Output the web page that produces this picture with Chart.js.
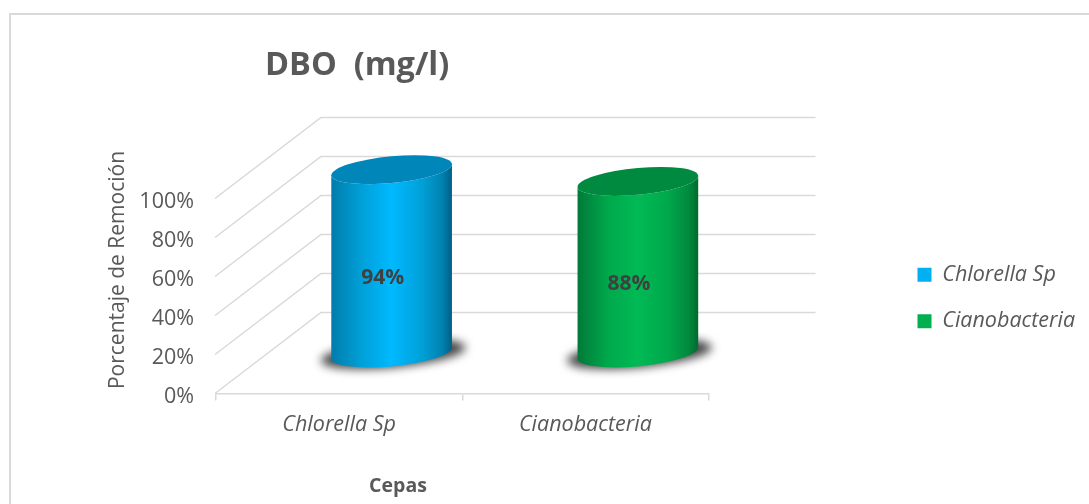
<!DOCTYPE html>
<html>
<head>
<meta charset="utf-8">
<script src="https://cdn.jsdelivr.net/npm/chart.js@4"></script>
<style>
    html, body { margin: 0; background: #ffffff; overflow: hidden; }
    #frame { position: absolute; left: 9px; top: 13px; right: 0; bottom: 0; border-left: 2px solid #d9d9d9; border-top: 2px solid #d9d9d9; }
    canvas { position: absolute; left: 0; top: 0; }
</style>
</head>
<body>
<div id="frame"></div>
<canvas id="chart" width="1089" height="504"></canvas>
<script>
const categories = ["Chlorella Sp", "Cianobacteria"];
const removalValues = [94, 88];
const barColors = ["#00b0f0", "#00b050"];
const sideDark = ["#007cab", "#007a38"];
const sideMid = ["#00a0d8", "#00a84c"];
const sideBright = ["#00b9ff", "#00ba55"];
const sideFade = ["#0082b0", "#008a3e"];
const sideEnd = ["#005f85", "#006a30"];
const topColors = ["#0086b8", "#008a3f"];
const yTicks = [0, 20, 40, 60, 80, 100];

const chartTitle = "DBO  (mg/l)";
const yTitle = "Porcentaje de Remoción";
const xTitle = "Cepas";

const fontName = "'Open Sans', sans-serif";
const gridColor = "#d9d9d9";
const textColor = "#595959";

// how far the back wall sits from the front plane
const depthX = 105;
const depthY = 81;

function drawWalls(chart) {

    const ctx = chart.ctx;
    const yScale = chart.scales.y;
    const left = chart.chartArea.left;
    const right = chart.chartArea.right;

    ctx.save();
    ctx.strokeStyle = gridColor;
    ctx.lineWidth = 1.5;

    yTicks.forEach(tick => {

        const y = yScale.getPixelForValue(tick);

        ctx.beginPath();
        ctx.moveTo(left - 1, y);
        ctx.lineTo(left + depthX, y - depthY);
        ctx.lineTo(right + depthX + 2, y - depthY);
        ctx.stroke();

    });

    ctx.restore();
}

function drawCylinder(ctx, bar, i) {

    const a = bar.width / 2;
    const b = 13.4;
    const slant = -5.5 / a;
    const cx = bar.x + depthX / 2;
    const topY = bar.y - depthY / 2;
    const h = bar.base - bar.y;

    // soft shadow on the floor
    ctx.save();
    ctx.filter = "blur(5px)";
    ctx.fillStyle = "#444444";
    ctx.translate(cx + 1.5, topY + h + 1);
    ctx.transform(1, slant, 0, 1, 0, 0);
    ctx.beginPath();
    ctx.ellipse(0, 0, a + 12, b, 0, 0, Math.PI * 2);
    ctx.fill();
    ctx.restore();

    ctx.save();
    ctx.translate(cx, topY);
    ctx.transform(1, slant, 0, 1, 0, 0);

    const side = ctx.createLinearGradient(-a, 0, a, 0);
    side.addColorStop(0, sideDark[i]);
    side.addColorStop(0.25, sideMid[i]);
    side.addColorStop(0.5, sideBright[i]);
    side.addColorStop(0.75, sideMid[i]);
    side.addColorStop(0.92, sideFade[i]);
    side.addColorStop(1, sideEnd[i]);

    ctx.fillStyle = side;
    ctx.beginPath();
    ctx.moveTo(-a, 0);
    ctx.lineTo(-a, h);
    ctx.ellipse(0, h, a, b, 0, Math.PI, 0, true);
    ctx.lineTo(a, 0);
    ctx.ellipse(0, 0, a, b, 0, 0, Math.PI);
    ctx.fill();

    ctx.fillStyle = topColors[i];
    ctx.beginPath();
    ctx.ellipse(0, 0, a, b, 0, 0, Math.PI * 2);
    ctx.fill();

    ctx.restore();
}

const cylinderPlugin = {

    id: "cylinders",

    afterLayout(chart) {
        // title starts above the plot, not at the canvas edge
        chart.titleBlock.left = 265;
        // legend sits a little under the middle of the plot
        chart.legend.top += 2;
        chart.legend.bottom += 2;
        // keep the last legend letter out of the clip
        chart.legend.right += 15;
    },

    beforeDatasetsDraw(chart) {

        const ctx = chart.ctx;

        drawWalls(chart);

        chart.getDatasetMeta(0).data.forEach((bar, i) => {

            drawCylinder(ctx, bar, i);

            ctx.save();
            ctx.fillStyle = "#404040";
            ctx.font = "bold 21px " + fontName;
            ctx.textAlign = "center";
            ctx.textBaseline = "middle";
            ctx.fillText(removalValues[i] + "%", bar.x + depthX / 2 - 9, (bar.y + bar.base) / 2 - depthY / 2 + 17);
            ctx.restore();

        });

        // axis titles sit off-centre in the original
        ctx.save();
        ctx.fillStyle = textColor;
        ctx.textAlign = "center";
        ctx.textBaseline = "middle";
        ctx.font = "bold 19.5px " + fontName;
        ctx.fillText(xTitle, 398, 486);
        ctx.translate(118, 270);
        ctx.rotate(-Math.PI / 2);
        ctx.font = "21px " + fontName;
        ctx.fillText(yTitle, 0, 0);
        ctx.restore();

        return false;
    }
};

new Chart(document.getElementById("chart"), {

    type: "bar",

    data: {
        labels: categories,
        datasets: [{
            data: removalValues,
            backgroundColor: barColors,
            barPercentage: 0.49,
            categoryPercentage: 1
        }]
    },

    plugins: [cylinderPlugin],

    options: {

        responsive: false,
        animation: false,
        devicePixelRatio: 1,

        layout: {
            padding: { right: 18 }
        },

        plugins: {

            title: {
                display: true,
                text: chartTitle,
                align: "start",
                color: textColor,
                font: { family: fontName, size: 32.5, weight: "bold", lineHeight: 1.2 },
                padding: { top: 46, bottom: 113.5 }
            },

            legend: {
                position: "right",
                fullSize: false,
                labels: {
                    boxWidth: 14,
                    boxHeight: 14,
                    padding: 25,
                    color: textColor,
                    font: { family: fontName, size: 21.5, style: "italic" },
                    generateLabels() {
                        return categories.map((name, i) => ({
                            text: name,
                            fontColor: textColor,
                            fillStyle: barColors[i],
                            strokeStyle: barColors[i],
                            lineWidth: 0,
                            index: i
                        }));
                    }
                }
            },

            tooltip: { enabled: false }
        },

        scales: {

            x: {
                grid: {
                    display: true,
                    drawOnChartArea: false,
                    drawTicks: true,
                    tickLength: 7,
                    color: gridColor,
                    lineWidth: 1.5
                },
                border: { color: gridColor, width: 1.5 },
                ticks: {
                    color: textColor,
                    padding: 11,
                    maxRotation: 0,
                    font: { family: fontName, size: 21.5, style: "italic" }
                },
                afterFit(scale) {
                    scale.height = 110.5;
                }
            },

            y: {
                min: 0,
                max: 100,
                grid: { display: false, drawTicks: false },
                border: { display: false },
                ticks: {
                    stepSize: 20,
                    padding: 22,
                    labelOffset: 3,
                    color: textColor,
                    font: { family: fontName, size: 21.5 },
                    callback: value => value + "%"
                },
                afterFit(scale) {
                    scale.width = 216;
                }
            },

            // empty space between the plot and the legend
            spacer: {
                type: "linear",
                position: "right",
                grid: { display: false },
                border: { display: false },
                ticks: { display: false },
                afterFit(scale) {
                    scale.width = 184;
                }
            }
        }
    }
});
</script>
</body>
</html>
